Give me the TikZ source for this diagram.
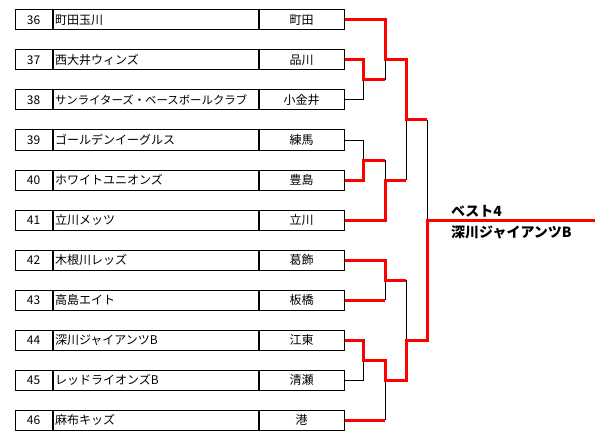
\documentclass[tikz,border=0pt]{standalone}
\usepackage{fontspec}
\newfontfamily\jp{Noto Sans CJK JP}
\usepackage{tikz}
\usetikzlibrary{positioning}

\begin{document}
\begin{tikzpicture}[x=1pt,y=-1pt,
  cell/.style={draw,line width=1pt,minimum height=20pt,inner sep=0pt,font=\jp\fontsize{12}{14}\selectfont},
  num/.style={cell,minimum width=37pt},
  team/.style={cell,text width=201pt,inner xsep=2pt,align=left},
  reg/.style={cell,minimum width=85pt},
  ln/.style={line width=1pt},
  win/.style={red,line width=3pt},
  lbl/.style={font=\jp\bfseries\fontsize{14}{16}\selectfont,inner sep=0pt}]
\useasboundingbox (0,0) rectangle (610,441);
% entries
\node[num]  (n36) at (33.5,20) {36};
\node[team,right=0pt of n36] (t36) {町田玉川};
\node[reg,right=0pt of t36]  (r36) {町田};
\node[num]  (n37) at (33.5,60) {37};
\node[team,right=0pt of n37] (t37) {西大井ウィンズ};
\node[reg,right=0pt of t37]  (r37) {品川};
\node[num]  (n38) at (33.5,100) {38};
\node[team,right=0pt of n38,font=\jp\fontsize{11.4}{14}\selectfont] (t38) {サンライターズ・ベースボールクラブ};
\node[reg,right=0pt of t38]  (r38) {小金井};
\node[num]  (n39) at (33.5,140) {39};
\node[team,right=0pt of n39] (t39) {ゴールデンイーグルス};
\node[reg,right=0pt of t39]  (r39) {練馬};
\node[num]  (n40) at (33.5,180) {40};
\node[team,right=0pt of n40] (t40) {ホワイトユニオンズ};
\node[reg,right=0pt of t40]  (r40) {豊島};
\node[num]  (n41) at (33.5,220) {41};
\node[team,right=0pt of n41] (t41) {立川メッツ};
\node[reg,right=0pt of t41]  (r41) {立川};
\node[num]  (n42) at (33.5,260) {42};
\node[team,right=0pt of n42] (t42) {木根川レッズ};
\node[reg,right=0pt of t42]  (r42) {葛飾};
\node[num]  (n43) at (33.5,300) {43};
\node[team,right=0pt of n43] (t43) {高島エイト};
\node[reg,right=0pt of t43]  (r43) {板橋};
\node[num]  (n44) at (33.5,340) {44};
\node[team,right=0pt of n44] (t44) {深川ジャイアンツB};
\node[reg,right=0pt of t44]  (r44) {江東};
\node[num]  (n45) at (33.5,380) {45};
\node[team,right=0pt of n45] (t45) {レッドライオンズB};
\node[reg,right=0pt of t45]  (r45) {清瀬};
\node[num]  (n46) at (33.5,420) {46};
\node[team,right=0pt of n46] (t46) {麻布キッズ};
\node[reg,right=0pt of t46]  (r46) {港};
% match points
\coordinate (a1) at (363,80);
\coordinate (a2) at (385,60);
\coordinate (a3) at (363,160);
\coordinate (a4) at (385,180);
\coordinate (a5) at (406,120);
\coordinate (b1) at (385,280);
\coordinate (b2) at (363,360);
\coordinate (b3) at (385,380);
\coordinate (b4) at (406,340);
\coordinate (fin) at (427,220);
\coordinate (end) at (595,220);
% losing lines
\draw[ln] (r38.east) -| (a1);
\draw[ln] (a1 -| a2) -- (a2);
\draw[ln] (r39.east) -| (a3);
\draw[ln] (a3 -| a4) -- (a4);
\draw[ln] (a4 -| a5) -- (a5);
\draw[ln] (a5 -| fin) -- (fin);
\draw[ln] (r43.east -| b1) -- (b1);
\draw[ln] (b1 -| b4) -- (b4);
\draw[ln] (r45.east) -| (b2);
\draw[ln] (r46.east -| b3) -- (b3);
% winning lines
\draw[win] (r36.east) -| (a2) -| (a5) -- (a5 -| fin);
\draw[win] (r37.east) -| (a1) -- (a1 -| a2);
\draw[win] (r40.east) -| (a3) -- (a3 -| a4);
\draw[win] (r41.east) -| (a4) -- (a4 -| a5);
\draw[win] (r42.east) -| (b1) -- (b1 -| b4);
\draw[win] (r43.east) -- (r43.east -| b1);
\draw[win] (r46.east) -- (r46.east -| b3);
\draw[win] (r44.east) -| (b2) -| (b3) -| (b4) -- (b4 -| fin) -- (fin) -- (end);
% result
\node[lbl,anchor=base west] (best)  at (451,216) {ベスト4};
\node[lbl,anchor=base west] (champ) at (451,237) {深川ジャイアンツB};
\end{tikzpicture}
\end{document}
